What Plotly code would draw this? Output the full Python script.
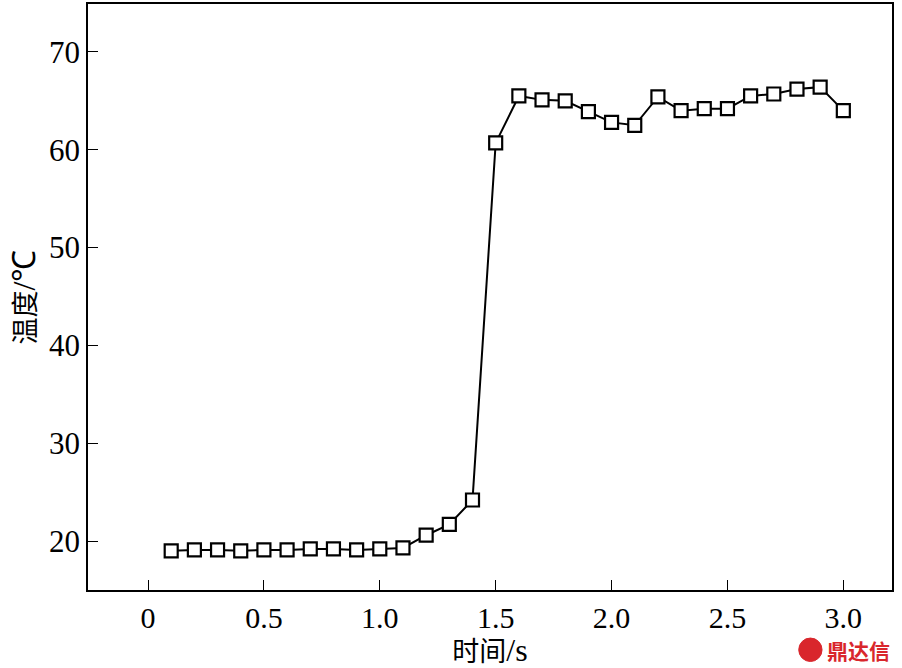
import plotly.graph_objects as go

# time (s) and temperature (°C)
time_s = [0.1, 0.2, 0.3, 0.4, 0.5, 0.6, 0.7, 0.8, 0.9, 1.0,
          1.1, 1.2, 1.3, 1.4, 1.5, 1.6, 1.7, 1.8, 1.9, 2.0,
          2.1, 2.2, 2.3, 2.4, 2.5, 2.6, 2.7, 2.8, 2.9, 3.0]
temp_c = [19.0, 19.1, 19.1, 19.0, 19.1, 19.1, 19.2, 19.2, 19.1, 19.2,
          19.3, 20.6, 21.7, 24.2, 60.7, 65.5, 65.1, 65.0, 63.9, 62.8,
          62.5, 65.4, 64.0, 64.2, 64.2, 65.5, 65.7, 66.2, 66.4, 64.0]

x_ticks = [0, 0.5, 1.0, 1.5, 2.0, 2.5, 3.0]
x_tick_text = ["0", "0.5", "1.0", "1.5", "2.0", "2.5", "3.0"]
y_ticks = [20, 30, 40, 50, 60, 70]

FONT = "'Liberation Serif', 'Times New Roman', 'Noto Sans CJK SC', serif"
SERIF = "font-family:Liberation Serif;font-size:32px"

fig = go.Figure()
fig.add_trace(go.Scatter(
    x=time_s, y=temp_c, mode="lines+markers",
    line=dict(color="black", width=2),
    marker=dict(symbol="square", size=13, color="white",
                line=dict(color="black", width=2.2)),
    showlegend=False))

axis = dict(showline=True, linecolor="black", linewidth=1.5, mirror=True,
            ticks="inside", ticklen=10, tickwidth=1.2, tickcolor="black",
            showgrid=False, zeroline=False)

fig.update_layout(
    width=902, height=668,
    paper_bgcolor="white", plot_bgcolor="white",
    margin=dict(l=88, r=10, t=2, b=78),
    font=dict(family=FONT, color="black"),
    xaxis=dict(range=[-0.259, 3.21], tickvals=x_ticks, ticktext=x_tick_text,
               tickfont=dict(size=30, color="black", family=FONT),
               title=dict(text=f"时间<span style='{SERIF}'>/s</span>",
                          font=dict(size=27), standoff=6), **axis),
    yaxis=dict(range=[15.0, 74.9], tickvals=y_ticks,
               tickfont=dict(size=31, color="black", family=FONT),
               title=dict(text=f"温度<span style='{SERIF}'>/℃</span>",
                          font=dict(size=27), standoff=6), **axis),
)

# watermark (logo + text)
fig.add_shape(type="circle", xref="paper", yref="paper",
              x0=0.884, x1=0.913, y0=-0.122, y1=-0.082,
              fillcolor="#d9262c", line=dict(color="#d9262c", width=1))
fig.add_annotation(x=1.0, y=-0.102, xref="paper", yref="paper",
                   xanchor="right", yanchor="middle", showarrow=False,
                   text="<b>鼎达信</b>",
                   font=dict(size=21, color="#d9262c", family="Noto Sans CJK SC"))

fig.write_html("out.html", config={"displayModeBar": False},
               post_script="document.body.style.margin='0';")
